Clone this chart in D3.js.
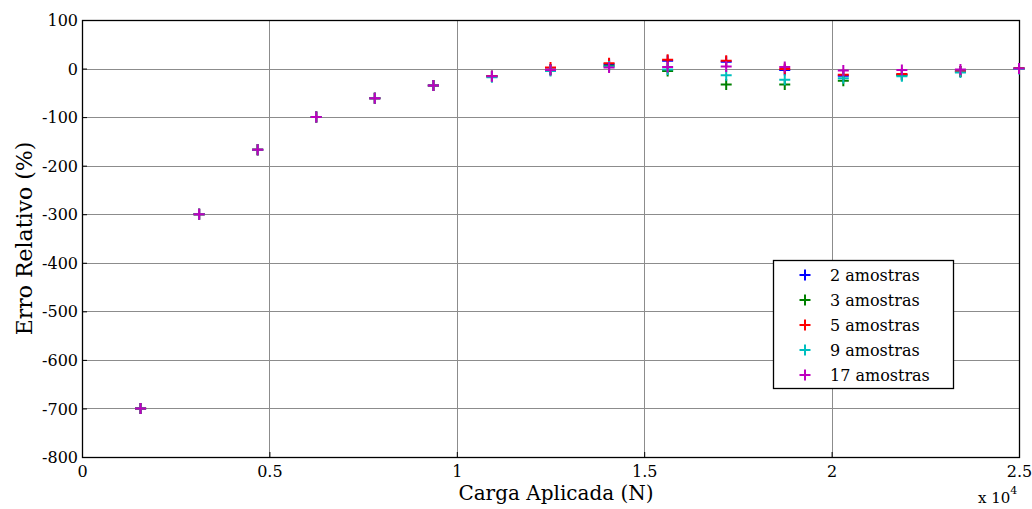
<!DOCTYPE html>
<html>
<head>
<meta charset="utf-8">
<script src="https://cdn.jsdelivr.net/npm/d3@7"></script>
<style>
  html, body { margin: 0; padding: 0; background: #fff; }
  svg { display: block; }
  text { font-family: "DejaVu Serif", "Liberation Serif", serif; fill: #000; }
</style>
</head>
<body>
<svg id="chart" width="1032" height="509"></svg>
<script>
// Applied load (N), 16 equally spaced steps
const loads = [1562.5, 3125, 4687.5, 6250, 7812.5, 9375, 10937.5, 12500,
               14062.5, 15625, 17187.5, 18750, 20312.5, 21875, 23437.5, 25000];

// Relative error (%) for each sampling configuration
const err2  = [-700, -300, -167, -100, -61, -35, -16, -2, 9, 16, 14, -3, -15, -12, -6, 0];
const err3  = [-700, -300, -167, -100, -61, -35, -16, -3, 6, -5, -33, -33, -25, -14, -6, 0];
const err5  = [-700, -300, -167, -100, -61, -35, -16, 2, 11, 18, 16, -1, -13, -11, -6, 0];
const err9  = [-700, -300, -167, -100, -61, -35, -18, -5, 4, -2, -14, -23, -20, -16, -8, -1];
const err17 = [-700, -300, -167, -100, -61, -35, -16, -3, 2, 3, 4, 3, -4, -3, -2, 0];

const seriesNames  = ["2 amostras", "3 amostras", "5 amostras", "9 amostras", "17 amostras"];
const seriesValues = [err2, err3, err5, err9, err17];
const seriesColors = ["#0000ff", "#008000", "#ff0000", "#00bfbf", "#bf00bf"];

const xTicks = [0, 5000, 10000, 15000, 20000, 25000];
const xTickLabels = ["0", "0.5", "1", "1.5", "2", "2.5"];
const yTicks = [100, 0, -100, -200, -300, -400, -500, -600, -700, -800];

const svg = d3.select("#chart");
const plotLeft = 82, plotRight = 1019, plotTop = 20, plotBottom = 457;
const serif = "'DejaVu Serif', 'Liberation Serif', serif";

const x = d3.scaleLinear().domain([0, 25000]).range([plotLeft, plotRight]);
const y = d3.scaleLinear().domain([-800, 100]).range([plotBottom, plotTop]);

// grid
const grid = svg.append("g");
grid.selectAll("line.vg").data(xTicks.slice(1, -1)).enter().append("line")
  .attr("x1", d => Math.round(x(d)) + 0.5).attr("x2", d => Math.round(x(d)) + 0.5)
  .attr("y1", plotTop).attr("y2", plotBottom)
  .attr("stroke", "#8c8c8c").attr("stroke-width", 1);
grid.selectAll("line.hg").data(yTicks.slice(1, -1)).enter().append("line")
  .attr("y1", d => Math.round(y(d)) + 0.5).attr("y2", d => Math.round(y(d)) + 0.5)
  .attr("x1", plotLeft).attr("x2", plotRight)
  .attr("stroke", "#8c8c8c").attr("stroke-width", 1);

// axes
const xAxis = d3.axisBottom(x).tickValues(xTicks)
  .tickFormat((d, i) => xTickLabels[i]).tickSizeInner(-5).tickSizeOuter(0).tickPadding(6);
const yAxis = d3.axisLeft(y).tickValues(yTicks)
  .tickFormat(d => String(d)).tickSizeInner(-5).tickSizeOuter(0).tickPadding(4);

const gx = svg.append("g").attr("transform", `translate(0,${plotBottom})`).call(xAxis);
const gy = svg.append("g").attr("transform", `translate(${plotLeft},0)`).call(yAxis);
[gx, gy].forEach(g => {
  g.attr("font-family", null).attr("font-size", null);
  g.select(".domain").remove();
  g.selectAll(".tick line").attr("stroke", "#000");
  g.selectAll(".tick text").style("font-family", serif)
    .style("font-size", "16px").attr("fill", "#000");
});
gx.selectAll(".tick text").attr("dy", "0.9em");
gy.selectAll(".tick text").attr("dy", "0.35em");

// frame
svg.append("rect").attr("x", plotLeft + 0.5).attr("y", plotTop + 0.5)
  .attr("width", plotRight - plotLeft).attr("height", plotBottom - plotTop)
  .attr("fill", "none").attr("stroke", "#000").attr("stroke-width", 1.3);

// markers
const arm = 5.5;
const plusPath = `M${-arm},0H${arm}M0,${-arm}V${arm}`;
seriesValues.forEach((vals, si) => {
  svg.append("g").selectAll("path").data(vals).enter().append("path")
    .attr("d", plusPath)
    .attr("transform", (d, i) => `translate(${x(loads[i])},${y(d)})`)
    .attr("stroke", seriesColors[si]).attr("stroke-width", 2).attr("fill", "none");
});

// axis titles
svg.append("text").attr("x", 556).attr("y", 500)
  .attr("text-anchor", "middle").style("font-family", serif).style("font-size", "20px")
  .text("Carga Aplicada (N)");
svg.append("text").attr("transform", `translate(32,${(plotTop + plotBottom) / 2}) rotate(-90)`)
  .attr("text-anchor", "middle").style("font-family", serif).style("font-size", "22px")
  .text("Erro Relativo (%)");

// exponent label
const ex = svg.append("text").attr("x", 978).attr("y", 503)
  .style("font-family", serif).style("font-size", "15px");
ex.append("tspan").text("x 10");
ex.append("tspan").attr("dy", -9).style("font-size", "11px").text("4");

// legend
const lg = svg.append("g").attr("transform", "translate(773,260)");
lg.append("rect").attr("x", 0.5).attr("y", 0.5).attr("width", 180).attr("height", 128)
  .attr("fill", "#fff").attr("stroke", "#000").attr("stroke-width", 1.3);
seriesNames.forEach((name, i) => {
  const yy = 15 + i * 25;
  lg.append("path").attr("d", plusPath).attr("transform", `translate(32,${yy})`)
    .attr("stroke", seriesColors[i]).attr("stroke-width", 2).attr("fill", "none");
  lg.append("text").attr("x", 57).attr("y", yy).attr("dy", "0.35em")
    .style("font-family", serif).style("font-size", "16px").text(name);
});
</script>
</body>
</html>
